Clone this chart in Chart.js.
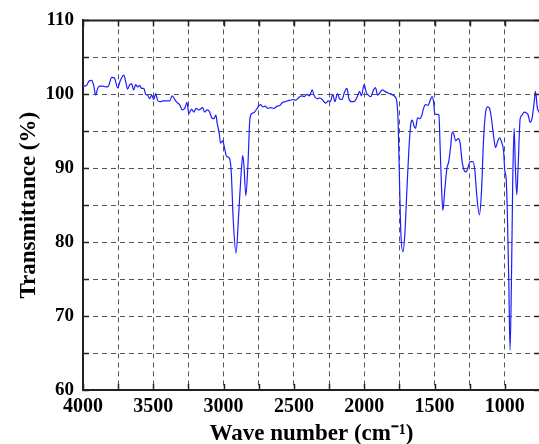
<!DOCTYPE html>
<html>
<head>
<meta charset="utf-8">
<script src="https://cdn.jsdelivr.net/npm/chart.js@4"></script>
<style>
  html, body { margin: 0; padding: 0; background: #fff; overflow: hidden; }
  #wrap { width: 545px; height: 444px; }
</style>
</head>
<body>
<div id="wrap"><canvas id="irChart" width="545" height="444"></canvas></div>
<script>
// spectrum: wave number (cm-1) and transmittance (%)
const waveNumbers = [
  4000, 3976, 3957, 3938, 3924, 3910, 3896, 3882, 3858, 3839, 3820, 3796, 3777, 3753, 3734, 3710,
  3696, 3683, 3668, 3654, 3640, 3626, 3611, 3597, 3583, 3568, 3554, 3540, 3526, 3511, 3497, 3483,
  3470, 3451, 3432, 3408, 3384, 3365, 3351, 3332, 3313, 3294, 3277, 3261, 3247, 3228, 3213, 3195,
  3175, 3149, 3135, 3116, 3102, 3083, 3068, 3055, 3046, 3031, 3022, 3007, 2993, 2979, 2960, 2946,
  2931, 2912, 2893, 2879, 2864, 2856, 2842, 2827, 2813, 2799, 2780, 2765, 2751, 2737, 2723, 2704,
  2685, 2665, 2643, 2619, 2600, 2581, 2562, 2548, 2528, 2505, 2486, 2469, 2445, 2426, 2408, 2389,
  2370, 2356, 2337, 2317, 2299, 2275, 2256, 2242, 2223, 2209, 2190, 2176, 2157, 2142, 2123, 2109,
  2090, 2066, 2047, 2033, 2020, 2001, 1986, 1972, 1953, 1934, 1920, 1905, 1886, 1872, 1853, 1834,
  1816, 1797, 1782, 1768, 1759, 1749, 1740, 1725, 1711, 1697, 1682, 1668, 1659, 1644, 1635, 1621,
  1607, 1593, 1578, 1564, 1545, 1531, 1517, 1507, 1498, 1483, 1469, 1460, 1450, 1441, 1426, 1412,
  1399, 1384, 1375, 1361, 1351, 1332, 1318, 1304, 1289, 1275, 1246, 1227, 1213, 1200, 1181, 1166,
  1152, 1138, 1123, 1109, 1095, 1081, 1066, 1052, 1038, 1024, 1009, 1000, 991, 982, 972, 963,
  953, 944, 934, 925, 915, 906, 891, 877, 863, 848, 834, 820, 806, 791, 783, 768, 759, 748
];
const transmittance = [
  101.1, 101.2, 101.8, 101.9, 101.2, 99.9, 100.8, 101.1, 101.1, 101.0, 101.1, 102.3, 102.2, 100.9, 101.9, 102.6,
  101.7, 100.7, 101.3, 101.4, 100.6, 101.3, 101.0, 101.2, 100.8, 100.8, 100.0, 99.9, 99.4, 99.9, 99.3, 100.1,
  99.2, 99.0, 99.1, 99.1, 99.1, 99.8, 99.4, 98.9, 98.6, 97.9, 98.1, 98.9, 97.4, 98.0, 97.6, 98.1,
  97.9, 98.2, 97.6, 97.9, 97.7, 96.8, 96.7, 97.2, 96.1, 94.7, 93.4, 93.7, 92.7, 91.6, 91.4, 89.6,
  82.8, 78.5, 83.7, 88.2, 91.7, 90.5, 86.3, 90.5, 96.7, 97.4, 97.6, 98.0, 98.4, 98.6, 98.3, 98.4,
  98.1, 98.2, 98.1, 98.4, 98.5, 98.9, 99.0, 99.1, 99.2, 99.3, 99.2, 99.5, 99.8, 99.7, 100.0, 99.8,
  100.6, 99.8, 99.4, 99.5, 99.3, 98.8, 99.1, 99.0, 100.0, 99.0, 100.1, 99.4, 99.3, 100.2, 100.8, 99.4,
  99.0, 99.1, 99.8, 100.4, 99.8, 101.3, 100.3, 99.9, 99.7, 100.6, 100.9, 99.9, 100.3, 100.6, 100.4, 100.2,
  100.1, 99.9, 99.7, 99.0, 96.3, 88.2, 81.5, 78.7, 81.1, 86.9, 92.7, 96.1, 96.5, 95.6, 95.4, 96.8,
  96.7, 97.0, 98.1, 98.6, 98.5, 99.2, 99.7, 99.0, 97.4, 97.3, 97.2, 92.7, 87.3, 84.3, 87.3, 90.0,
  90.9, 93.2, 94.9, 94.5, 93.7, 94.0, 93.4, 90.9, 89.7, 89.5, 90.9, 90.9, 89.6, 86.4, 83.7, 86.9,
  93.6, 97.4, 98.3, 98.1, 96.7, 94.5, 92.8, 93.6, 94.1, 93.6, 92.3, 89.6, 88.7, 83.7, 74.8, 65.4,
  74.8, 88.2, 95.4, 90.0, 86.4, 90.0, 96.7, 97.2, 97.6, 97.5, 97.2, 96.2, 96.8, 99.0, 100.4, 98.1, 97.7, 97.2
];
const xLabelEvery = 500;   // wave number labels
const yLabelEvery = 10;    // transmittance labels

const serif = "'Liberation Serif', 'Times New Roman', serif";

// frame on top/right plus short inward ticks on every side
const frameTicks = {
  id: 'frameTicks',
  afterDraw(chart) {
    const { ctx, chartArea: a, scales: { x, y } } = chart;
    ctx.save();
    ctx.strokeStyle = '#222';
    ctx.lineWidth = 2;
    ctx.beginPath();
    ctx.moveTo(a.left, a.top);
    ctx.lineTo(a.right, a.top);
    ctx.lineTo(a.right, a.bottom);
    ctx.stroke();
    ctx.lineWidth = 1.5;
    ctx.beginPath();
    x.ticks.forEach(t => {
      const px = Math.round(x.getPixelForValue(t.value)) + 0.5;
      ctx.moveTo(px, a.bottom); ctx.lineTo(px, a.bottom - 6);
      ctx.moveTo(px, a.top); ctx.lineTo(px, a.top + 6);
    });
    y.ticks.forEach(t => {
      const py = Math.round(y.getPixelForValue(t.value)) + 0.5;
      ctx.moveTo(a.left, py); ctx.lineTo(a.left + 6, py);
      ctx.moveTo(a.right, py); ctx.lineTo(a.right - 6, py);
    });
    ctx.stroke();
    ctx.restore();
  }
};

new Chart(document.getElementById('irChart').getContext('2d'), {
  type: 'line',
  data: {
    datasets: [{
      data: waveNumbers.map((w, i) => ({ x: w, y: transmittance[i] })),
      borderColor: '#1c1cff',
      borderWidth: 1.2,
      pointRadius: 0,
      cubicInterpolationMode: 'monotone'
    }]
  },
  plugins: [frameTicks],
  options: {
    responsive: false,
    animation: false,
    devicePixelRatio: 1,
    layout: { padding: { top: 18, right: 0, left: 10, bottom: 0 } },
    plugins: { legend: { display: false }, tooltip: { enabled: false } },
    scales: {
      x: {
        type: 'linear',
        reverse: true,
        min: 750,
        max: 4000,
        afterFit: s => { s.height = 54; },
        ticks: {
          stepSize: 250,
          autoSkip: false,
          maxRotation: 0,
          padding: 5,
          color: '#000',
          font: { family: serif, size: 20, weight: 'bold' },
          callback: v => (v % xLabelEvery === 0 ? v : '')
        },
        grid: { color: '#555', lineWidth: 1, drawTicks: false },
        border: { color: '#222', width: 2, dash: [5, 4] },
        title: {
          display: true,
          text: 'Wave number (cm\u207B\u00B9)',
          color: '#000',
          padding: { top: 0, bottom: -4 },
          font: { family: serif, size: 23, weight: 'bold' }
        }
      },
      y: {
        min: 60,
        max: 110,
        afterFit: s => { s.width = 73; },
        ticks: {
          stepSize: 5,
          autoSkip: false,
          padding: 9,
          color: '#000',
          font: { family: serif, size: 19, weight: 'bold' },
          callback: v => (v % yLabelEvery === 0 ? v : '')
        },
        grid: { color: '#555', lineWidth: 1, drawTicks: false },
        border: { color: '#222', width: 2, dash: [5, 4] },
        title: {
          display: true,
          text: 'Transmittance (%)',
          color: '#000',
          padding: { top: 5, bottom: 0 },
          font: { family: serif, size: 23, weight: 'bold' }
        }
      }
    }
  }
});
</script>
</body>
</html>
